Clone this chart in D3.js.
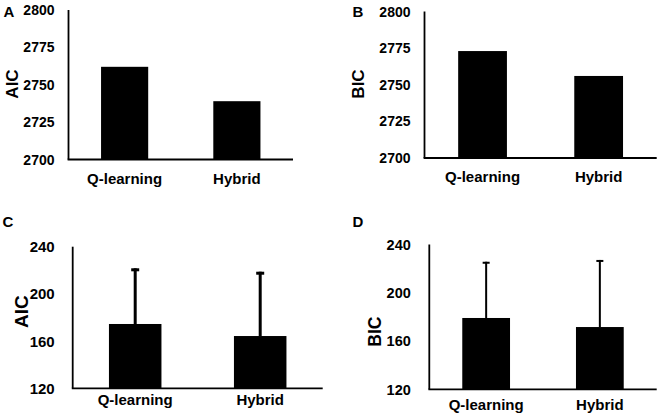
<!DOCTYPE html>
<html>
<head>
<meta charset="utf-8">
<script src="https://cdn.jsdelivr.net/npm/d3@7"></script>
<style>
  body { margin: 0; background: #fff; }
  svg { display: block; }
  text { font-family: "Liberation Sans", Arial, sans-serif; font-weight: bold; fill: #000; }
</style>
</head>
<body>
<div id="chart"></div>
<script>
// data
const categories = ['Q-learning', 'Hybrid'];

const aicAggregate = [2762, 2739];
const bicAggregate = [2773, 2756];

const aicMean = [174.5, 164.3];
const aicSd = [47.2, 54.5];
const bicMean = [179.1, 171.6];
const bicSd = [46.6, 55.6];

const ticksAggregate = [2700, 2725, 2750, 2775, 2800];
const ticksMean = [120, 160, 200, 240];

// panel layout
const panels = [
  { letter: 'A', label: 'AIC', values: aicAggregate, errors: null, ticks: ticksAggregate,
    x0: 68.5, x1: 293, yTop: 10, yBot: 159.5, tickSize: 14, tickGap: 14, labelSize: 17,
    labelX: 12, labelY: 84, letterX: 3.5, letterY: 16.7, catY: 183.5 },
  { letter: 'B', label: 'BIC', values: bicAggregate, errors: null, ticks: ticksAggregate,
    x0: 424.5, x1: 656.7, yTop: 11.5, yBot: 158, tickSize: 14, tickGap: 14, labelSize: 17,
    labelX: 358, labelY: 84, letterX: 352.5, letterY: 17.3, catY: 181.7 },
  { letter: 'C', label: 'AIC', values: aicMean, errors: aicSd, ticks: ticksMean,
    x0: 72.7, x1: 322.7, yTop: 246.7, yBot: 388.3, tickSize: 15, tickGap: 18, labelSize: 19,
    labelX: 21, labelY: 311.7, letterX: 2.5, letterY: 227.3, catY: 405, errWidth: 3, capW: 8, capH: 3 },
  { letter: 'D', label: 'BIC', values: bicMean, errors: bicSd, ticks: ticksMean,
    x0: 429.3, x1: 656.7, yTop: 244.5, yBot: 389.3, tickSize: 14.5, tickGap: 18.5, labelSize: 17.5,
    labelX: 374.7, labelY: 331.7, letterX: 352.5, letterY: 227.3, catY: 410, errWidth: 2, capW: 7, capH: 2 }
];

const svg = d3.select('#chart')
  .append('svg')
  .attr('width', 661)
  .attr('height', 417);

panels.forEach(function(p) {
  const g = svg.append('g');
  const ticks = p.ticks;

  const x = d3.scaleBand()
    .domain(categories)
    .range([p.x0, p.x1])
    .paddingInner(0.58)
    .paddingOuter(0.29);

  const y = d3.scaleLinear()
    .domain([ticks[0], ticks[ticks.length - 1]])
    .range([p.yBot, p.yTop]);

  // bars
  g.selectAll('.bar')
    .data(p.values)
    .enter()
    .append('rect')
    .attr('x', function(d, i) { return x(categories[i]); })
    .attr('width', x.bandwidth())
    .attr('y', function(d) { return y(d); })
    .attr('height', function(d) { return y(ticks[0]) - y(d); })
    .attr('fill', '#000');

  // error bars, upper half only
  if (p.errors) {
    p.values.forEach(function(v, i) {
      const cx = x(categories[i]) + x.bandwidth() / 2;
      const top = y(v + p.errors[i]);
      g.append('line')
        .attr('x1', cx).attr('x2', cx)
        .attr('y1', y(v)).attr('y2', top)
        .attr('stroke', '#000')
        .attr('stroke-width', p.errWidth);
      g.append('rect')
        .attr('x', cx - p.capW / 2)
        .attr('y', top)
        .attr('width', p.capW)
        .attr('height', p.capH)
        .attr('fill', '#000');
    });
  }

  // axes lines
  g.append('line')
    .attr('x1', p.x0).attr('x2', p.x0)
    .attr('y1', y(ticks[ticks.length - 1])).attr('y2', y(ticks[0]))
    .attr('stroke', '#000').attr('stroke-width', 1.8);
  g.append('line')
    .attr('x1', p.x0 - 0.9).attr('x2', p.x1)
    .attr('y1', y(ticks[0])).attr('y2', y(ticks[0]))
    .attr('stroke', '#000').attr('stroke-width', 1.8);

  // tick labels
  g.selectAll('.tick')
    .data(ticks)
    .enter()
    .append('text')
    .attr('x', p.x0 - p.tickGap)
    .attr('y', function(d) { return y(d); })
    .attr('dy', '0.36em')
    .attr('text-anchor', 'end')
    .style('font-size', p.tickSize + 'px')
    .text(function(d) { return d; });

  // category labels
  g.selectAll('.cat')
    .data(categories)
    .enter()
    .append('text')
    .attr('x', function(d) { return x(d) + x.bandwidth() / 2; })
    .attr('y', p.catY)
    .attr('text-anchor', 'middle')
    .style('font-size', '15px')
    .text(function(d) { return d; });

  // y axis title
  g.append('text')
    .attr('transform', `translate(${p.labelX}, ${p.labelY}) rotate(-90)`)
    .attr('dy', '0.36em')
    .attr('text-anchor', 'middle')
    .style('font-size', p.labelSize + 'px')
    .text(p.label);

  // panel letter
  g.append('text')
    .attr('x', p.letterX)
    .attr('y', p.letterY)
    .style('font-size', '15px')
    .text(p.letter);
});
</script>
</body>
</html>
